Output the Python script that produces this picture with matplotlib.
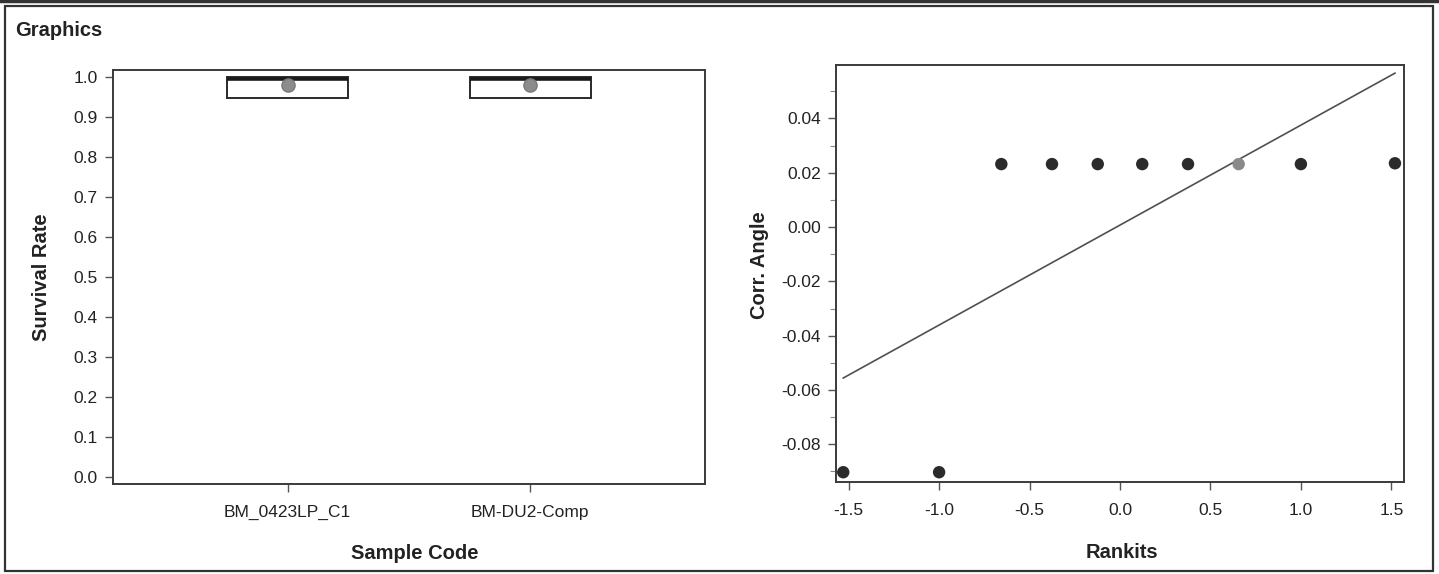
import matplotlib
matplotlib.use("Agg")
import matplotlib.pyplot as plt
from matplotlib.patches import Rectangle
from matplotlib.lines import Line2D
from matplotlib.ticker import MultipleLocator, FormatStrFormatter

# box plot summary (Survival Rate per sample)
sample_codes = ["BM_0423LP_C1", "BM-DU2-Comp"]
box_q1 = [0.947, 0.948]
box_median = [0.995, 0.996]
box_q3 = [1.0, 1.0]
box_mean = [0.980, 0.981]

# normal probability plot of Corr. Angle
rankits = [-1.53, -1.0, -0.656, -0.376, -0.123, 0.123, 0.376, 0.656, 1.0, 1.52]
corr_angle = [-0.0903, -0.0903, 0.0232, 0.0232, 0.0232, 0.0232, 0.0232, 0.0232, 0.0232, 0.0235]
highlight_idx = 7
fit_x = [-1.53, 1.52]
fit_y = [-0.0556, 0.0567]

plt.rcParams["font.family"] = ["Liberation Sans", "DejaVu Sans"]
plt.rcParams["axes.unicode_minus"] = False

W, H = 1439, 574
fig = plt.figure(figsize=(W / 100, H / 100), dpi=100)
fig.patch.set_facecolor("white")

text_col = "#222222"
spine_col = "#3a3a3a"

# outer panel frame
fig.add_artist(Rectangle((5 / W, 3 / H), 1428 / W, 565 / H, transform=fig.transFigure,
                         fill=False, edgecolor="#333333", lw=1.6))
fig.add_artist(Line2D([0, 1], [1 - 1 / H, 1 - 1 / H], transform=fig.transFigure,
                      color="#333333", lw=2.5))
fig.text(15 / W, 1 - 36 / H, "Graphics", fontsize=14.5, fontweight="bold",
         color=text_col, va="baseline", ha="left")


def style_axes(ax):
    for s in ax.spines.values():
        s.set_color(spine_col)
        s.set_linewidth(1.4)
    ax.tick_params(direction="out", length=6, width=1, color="#555555",
                   labelsize=12.5, labelcolor=text_col, pad=5)


# left: box plots
ax1 = fig.add_axes([113 / W, 1 - 484 / H, 592 / W, 414 / H])
stats = []
for i in range(len(sample_codes)):
    stats.append({"med": box_median[i], "q1": box_q1[i], "q3": box_q3[i],
                  "whislo": box_q1[i], "whishi": box_q3[i],
                  "mean": box_mean[i], "fliers": []})
ax1.bxp(stats, positions=range(len(sample_codes)), widths=0.5, showmeans=True,
        showcaps=False, patch_artist=True,
        boxprops=dict(facecolor="white", edgecolor="#2a2a2a", linewidth=1.4),
        medianprops=dict(color="#1a1a1a", linewidth=2.6),
        whiskerprops=dict(color="#2a2a2a", linewidth=1.2),
        meanprops=dict(marker="o", markersize=9.5, markerfacecolor="#8c8c8c",
                       markeredgecolor="#7a7a7a"))
ax1.set_xlim(-0.72, 1.72)
ax1.set_ylim(-0.0175, 1.0175)
ax1.set_xticks(range(len(sample_codes)))
ax1.set_xticklabels(sample_codes)
ax1.yaxis.set_major_locator(MultipleLocator(0.1))
ax1.yaxis.set_major_formatter(FormatStrFormatter("%.1f"))
style_axes(ax1)
ax1.tick_params(axis="x", pad=9)
ax1.set_xlabel("Sample Code", fontsize=14.5, fontweight="bold", color=text_col)
ax1.set_ylabel("Survival Rate", fontsize=14.5, fontweight="bold", color=text_col)
ax1.xaxis.set_label_coords(0.51, -0.145)
ax1.yaxis.set_label_coords(-0.105, 0.5)

# right: rankit plot
ax2 = fig.add_axes([836 / W, 1 - 482 / H, 568 / W, 417 / H])
ax2.plot(fit_x, fit_y, color="#505050", lw=1.2, zorder=2)
cols = ["#8a8a8a" if i == highlight_idx else "#2b2b2b" for i in range(len(rankits))]
ax2.scatter(rankits, corr_angle, s=80, c=cols, zorder=3, linewidths=0)
ax2.set_xlim(-1.57, 1.57)
ax2.set_ylim(-0.0939, 0.0597)
ax2.xaxis.set_major_locator(MultipleLocator(0.5))
ax2.xaxis.set_major_formatter(FormatStrFormatter("%.1f"))
ax2.yaxis.set_major_locator(MultipleLocator(0.02))
ax2.yaxis.set_minor_locator(MultipleLocator(0.01))
ax2.yaxis.set_major_formatter(FormatStrFormatter("%.2f"))
style_axes(ax2)
ax2.tick_params(axis="y", which="minor", length=4, width=0.8, color="#888888")
ax2.tick_params(axis="x", pad=9)
ax2.set_xlabel("Rankits", fontsize=14.5, fontweight="bold", color=text_col)
ax2.set_ylabel("Corr. Angle", fontsize=14.5, fontweight="bold", color=text_col)
ax2.xaxis.set_label_coords(0.503, -0.146)
ax2.yaxis.set_label_coords(-0.118, 0.52)

fig.savefig("out.png", dpi=100)
